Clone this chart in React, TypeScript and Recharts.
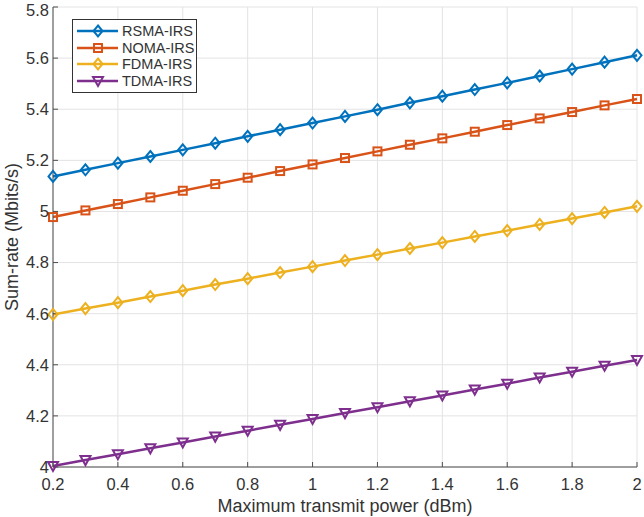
import React from 'react'
import {
  LineChart, Line, XAxis, YAxis, CartesianGrid,
} from 'recharts'

const powerDbm = [0.2, 0.3, 0.4, 0.5, 0.6, 0.7, 0.8, 0.9, 1, 1.1, 1.2, 1.3, 1.4, 1.5, 1.6, 1.7, 1.8, 1.9, 2]
const rsmaIrs = [5.137, 5.163, 5.189, 5.215, 5.241, 5.267, 5.294, 5.320, 5.346, 5.372, 5.398, 5.425, 5.451, 5.477, 5.503, 5.530, 5.557, 5.584, 5.611]
const nomaIrs = [4.978, 5.004, 5.029, 5.055, 5.081, 5.107, 5.132, 5.158, 5.184, 5.209, 5.235, 5.261, 5.286, 5.312, 5.338, 5.364, 5.389, 5.415, 5.440]
const fdmaIrs = [4.597, 4.620, 4.643, 4.667, 4.690, 4.714, 4.737, 4.761, 4.784, 4.808, 4.831, 4.855, 4.878, 4.902, 4.925, 4.949, 4.972, 4.996, 5.020]
const tdmaIrs = [4.004, 4.027, 4.050, 4.073, 4.096, 4.119, 4.142, 4.165, 4.188, 4.211, 4.234, 4.257, 4.280, 4.303, 4.326, 4.350, 4.373, 4.396, 4.419]

const xTicks = [0.2, 0.4, 0.6, 0.8, 1, 1.2, 1.4, 1.6, 1.8, 2]
const yTicks = [4, 4.2, 4.4, 4.6, 4.8, 5, 5.2, 5.4, 5.6, 5.8]

const FONT = '"Liberation Sans", Arial, sans-serif'
const AXIS = '#4d4d4d'
const TEXT = '#333'

const series = [
  { key: 'rsma', name: 'RSMA-IRS', color: '#0072BD', marker: 'diamond' },
  { key: 'noma', name: 'NOMA-IRS', color: '#D95319', marker: 'square' },
  { key: 'fdma', name: 'FDMA-IRS', color: '#EDB120', marker: 'diamond' },
  { key: 'tdma', name: 'TDMA-IRS', color: '#7E2F8E', marker: 'triangle' },
]

const data = powerDbm.map((p, i) => ({
  p, rsma: rsmaIrs[i], noma: nomaIrs[i], fdma: fdmaIrs[i], tdma: tdmaIrs[i],
}))

const fmt = (v: number) => String(Math.round(v * 10) / 10)

function Marker({ cx, cy, color, kind }: any) {
  if (cx == null || cy == null) return null
  const common = { fill: 'none', stroke: color, strokeWidth: 2 }
  if (kind === 'square') {
    return <rect x={cx - 4} y={cy - 4} width={8} height={8} {...common} />
  }
  if (kind === 'triangle') {
    return <polygon points={`${cx - 5},${cy - 4} ${cx + 5},${cy - 4} ${cx},${cy + 5}`} {...common} />
  }
  return <polygon points={`${cx},${cy - 5.5} ${cx + 4.5},${cy} ${cx},${cy + 5.5} ${cx - 4.5},${cy}`} {...common} />
}

const LegendBox = () => (
  <div style={{
    position: 'absolute', left: 72, top: 19, width: 125, boxSizing: 'border-box',
    background: '#fff', border: '1px solid #333', padding: '3px 0 3px 3px',
    fontFamily: FONT, fontSize: 14.5, color: TEXT, whiteSpace: 'nowrap',
  }}>
    {series.map((s) => (
      <div key={s.key} style={{ display: 'flex', alignItems: 'center', height: 16.5 }}>
        <svg width={44} height={16} style={{ flex: 'none' }}>
          <line x1={1} x2={42} y1={8} y2={8} stroke={s.color} strokeWidth={2.5} />
          <Marker cx={22} cy={8} color={s.color} kind={s.marker} />
        </svg>
        <span style={{ marginLeft: 2 }}>{s.name}</span>
      </div>
    ))}
  </div>
)

export default function App() {
  return (
    <div style={{ position: 'absolute', left: 0, top: 0, width: 644, height: 517, background: '#fff' }}>
      <LineChart width={644} height={517} data={data}
        margin={{ top: 7, right: 7, left: 0, bottom: 0 }}>
        <CartesianGrid stroke="#e3e3e3" strokeWidth={1} />
        <XAxis dataKey="p" type="number" domain={[0.2, 2]} ticks={xTicks}
          tickFormatter={fmt} height={50} stroke={AXIS} tickSize={-5} tickMargin={16}
          tick={{ fill: TEXT, fontSize: 16.5, fontFamily: FONT }}
          label={{ value: 'Maximum transmit power (dBm)', position: 'insideBottom', offset: 5, fill: TEXT, fontSize: 18, fontFamily: FONT }} />
        <XAxis xAxisId="top" orientation="top" dataKey="p" type="number" domain={[0.2, 2]}
          ticks={xTicks} height={0} stroke={AXIS} tick={false} tickSize={5} />
        <YAxis type="number" domain={[4, 5.8]} ticks={yTicks} tickFormatter={fmt}
          width={53} stroke={AXIS} tickSize={-5} tickMargin={9}
          tick={{ fill: TEXT, fontSize: 16.5, fontFamily: FONT }}
          label={{ value: 'Sum-rate (Mbits/s)', angle: -90, position: 'insideLeft', offset: 12, fill: TEXT, fontSize: 18, fontFamily: FONT, style: { textAnchor: 'middle' } }} />
        <YAxis yAxisId="right" orientation="right" type="number" domain={[4, 5.8]}
          ticks={yTicks} width={0} stroke={AXIS} tick={false} tickSize={5} />
        {series.map((s) => (
          <Line key={s.key} dataKey={s.key} name={s.name} stroke={s.color} strokeWidth={2.5}
            isAnimationActive={false}
            dot={(props: any) => <Marker key={props.index} cx={props.cx} cy={props.cy} color={s.color} kind={s.marker} />} />
        ))}
      </LineChart>
      <LegendBox />
    </div>
  )
}
